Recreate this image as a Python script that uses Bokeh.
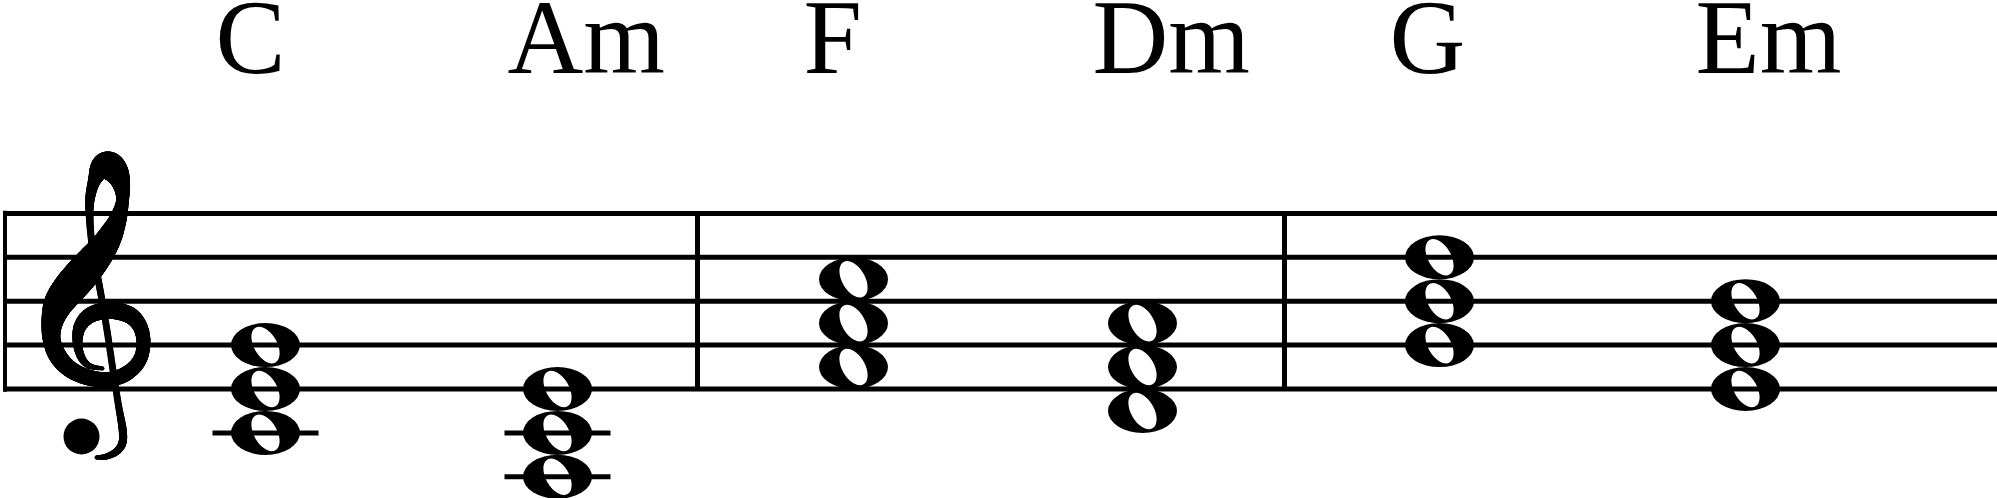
import numpy as np
from bokeh.plotting import figure
from bokeh.models import Range1d
from bokeh.embed import file_html
from bokeh.resources import INLINE
from bokeh.core.properties import value

# ---------------- data ----------------
chord_names = ["C", "Am", "F", "Dm", "G", "Em"]
chord_notes = [
    ["C4", "E4", "G4"],
    ["A3", "C4", "E4"],
    ["F4", "A4", "C5"],
    ["D4", "F4", "A4"],
    ["G4", "B4", "D5"],
    ["E4", "G4", "B4"],
]
staff_line_pitches = ["E4", "G4", "B4", "D5", "F5"]

# ---------------- layout ----------------
W, H = 1997, 498
CHORD_X = [265, 557, 853, 1142, 1439, 1745]
BAR_X = [697, 1284]
STAFF_LEFT, STAFF_RIGHT = 3, 1997
BOTTOM_LINE_Y = 388.5      # screen px of the E4 line
SPACE = 43.9               # px between staff lines
STEP = SPACE / 2
TEXT_ANCHOR_Y = 37         # screen px anchor of chord names (renders baseline ~74)
TEXT_DX = -50
NOTE_W, NOTE_H = 69, 44
HOLE_W, HOLE_H, HOLE_ANGLE = 40, 23, np.deg2rad(-60)
LEDGER_HALF = 53


def step_of(pitch):
    return "CDEFGAB".index(pitch[0]) + 7 * int(pitch[1:]) - (2 + 7 * 4)


def sy(screen_y):
    return (BOTTOM_LINE_Y - np.asarray(screen_y, float)) / STEP


p = figure(width=W, height=H,
           x_range=Range1d(0, W),
           y_range=Range1d(float(sy(H)), float(sy(0))),
           output_backend="svg", toolbar_location=None,
           x_axis_type=None, y_axis_type=None, min_border=0,
           outline_line_color=None)
p.background_fill_color = "white"
p.border_fill_color = "white"

# ---------------- treble clef (glyph outline: x, y, stroke width in px) ----------------
CLEF_PTS = [
    (102, 368, 4), (88, 365, 6), (80, 355, 8), (77, 340, 10), (80, 325, 13),
    (91, 314, 16), (110, 310, 17), (128, 314, 17), (139, 325, 15), (143, 342, 14),
    (139, 360, 14), (126, 373, 15), (108, 379, 15), (88, 377, 16), (70, 369, 17),
    (57, 355, 18), (51, 338, 18), (52, 320, 22), (58, 303, 29), (68, 289, 33),
    (80, 275, 34), (91, 262, 32), (102, 248, 28), (111, 233, 23), (118, 217, 17),
    (122, 200, 13), (121, 185, 17), (116, 172, 24), (108, 165, 28), (100, 168, 21),
    (94, 180, 13), (90, 195, 10), (89, 212, 8), (91, 240, 7), (96, 270, 7),
    (101, 297, 7), (107, 333, 7), (113, 373, 7), (118, 405, 7), (122, 428, 8),
    (122, 442, 8), (116, 451, 7), (106, 456, 6), (96, 457, 4),
]
pts = np.array(CLEF_PTS, float)
P = np.vstack([pts[0], pts, pts[-1]])
segs = []
t = np.linspace(0, 1, 16, endpoint=False)[:, None]
for i in range(1, len(P) - 2):
    p0, p1, p2, p3 = P[i - 1], P[i], P[i + 1], P[i + 2]
    segs.append(0.5 * (2 * p1 + (-p0 + p2) * t + (2 * p0 - 5 * p1 + 4 * p2 - p3) * t ** 2
                       + (-p0 + 3 * p1 - 3 * p2 + p3) * t ** 3))
segs.append(P[-2][None, :])
C = np.vstack(segs)
p.scatter(C[:, 0], sy(C[:, 1]), size=C[:, 2], marker="circle",
          fill_color="black", line_color=None)
p.scatter([81], sy([436]), size=36, marker="circle", fill_color="black", line_color=None)

# ---------------- notes ----------------
nx, ny = [], []
lx0, lx1, ly = [], [], []
for x, notes in zip(CHORD_X, chord_notes):
    steps = [step_of(n) for n in notes]
    for s in steps:
        nx.append(x)
        ny.append(s)
    lo, hi = min(steps), max(steps)
    for s in range(-2, lo - 1, -2):
        lx0.append(x - LEDGER_HALF); lx1.append(x + LEDGER_HALF); ly.append(s)
    for s in range(10, hi + 1, 2):
        lx0.append(x - LEDGER_HALF); lx1.append(x + LEDGER_HALF); ly.append(s)

p.ellipse(nx, ny, width=NOTE_W, height=NOTE_H, width_units="screen", height_units="screen",
          fill_color="black", line_color=None)
p.ellipse(nx, ny, width=HOLE_W, height=HOLE_H, angle=HOLE_ANGLE,
          width_units="screen", height_units="screen",
          fill_color="white", line_color=None)

# ---------------- staff ----------------
line_steps = [step_of(n) for n in staff_line_pitches]
p.segment(x0=[STAFF_LEFT] * 5, x1=[STAFF_RIGHT] * 5, y0=line_steps, y1=line_steps,
          line_color="black", line_width=5)
p.segment(x0=lx0, x1=lx1, y0=ly, y1=ly, line_color="black", line_width=5)
p.segment(x0=[4.5], x1=[4.5], y0=[min(line_steps) - 0.12], y1=[max(line_steps) + 0.12],
          line_color="black", line_width=4)
p.segment(x0=BAR_X, x1=BAR_X, y0=[min(line_steps)] * len(BAR_X), y1=[max(line_steps)] * len(BAR_X),
          line_color="black", line_width=5)

# ---------------- chord names ----------------
p.text(x=[x + TEXT_DX for x in CHORD_X], y=[float(sy(TEXT_ANCHOR_Y))] * len(CHORD_X),
       text=chord_names, text_font=value("Liberation Serif"), text_font_size="105px",
       text_align="left", text_baseline="alphabetic", text_color="black")

open("out.html", "w").write(file_html(p, INLINE))
